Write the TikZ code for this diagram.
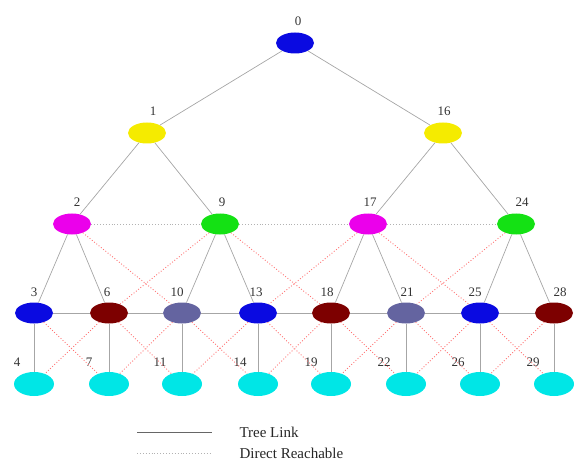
\documentclass[tikz,border=0pt]{standalone}
\usepackage{fontspec}
\setmainfont{Liberation Serif}
\usetikzlibrary{shapes.geometric}
\begin{document}
\begin{tikzpicture}[x=1pt,y=-1pt,
  dot/.style={ellipse,minimum width=38pt,minimum height=21pt,inner sep=0pt},
  leaf/.style={dot,fill=leafc,minimum height=24pt,minimum width=40pt},
  lbl/.style={font=\fontsize{13}{15}\selectfont,text=black!80},
  legendtext/.style={font=\fontsize{15}{17}\selectfont,text=black!85,anchor=west},
  tree/.style={draw=black!35,line width=0.7pt},
  reach/.style={draw=red!55!white,line width=0.9pt,dotted},
  reachh/.style={draw=black!30,line width=0.9pt,dotted}]
\definecolor{blu}{RGB}{10,10,225}
\definecolor{yel}{RGB}{245,235,0}
\definecolor{mag}{RGB}{235,0,235}
\definecolor{grn}{RGB}{20,225,20}
\definecolor{drd}{RGB}{125,0,0}
\definecolor{sla}{RGB}{100,100,160}
\definecolor{leafc}{RGB}{0,230,230}
\useasboundingbox (0,0) rectangle (580,462);
% level 0 and 1
\node[dot,fill=blu] (n0) at (295,43) {};
\node[dot,fill=yel] (n1) at (147,133) {};
\node[dot,fill=yel] (n16) at (443,133) {};
% level 2
\node[dot,fill=mag] (n2) at (72,224) {};
\node[dot,fill=grn] (n9) at (220,224) {};
\node[dot,fill=mag] (n17) at (368,224) {};
\node[dot,fill=grn] (n24) at (516,224) {};
% level 3
\node[dot,fill=blu] (n3) at (34,313) {};
\node[dot,fill=drd] (n6) at (109,313) {};
\node[dot,fill=sla] (n10) at (182,313) {};
\node[dot,fill=blu] (n13) at (258,313) {};
\node[dot,fill=drd] (n18) at (331,313) {};
\node[dot,fill=sla] (n21) at (406,313) {};
\node[dot,fill=blu] (n25) at (480,313) {};
\node[dot,fill=drd] (n28) at (554,313) {};
% leaves
\node[leaf] (n4) at (34,384) {};
\node[leaf] (n7) at (109,384) {};
\node[leaf] (n11) at (182,384) {};
\node[leaf] (n14) at (258,384) {};
\node[leaf] (n19) at (331,384) {};
\node[leaf] (n22) at (406,384) {};
\node[leaf] (n26) at (480,384) {};
\node[leaf] (n29) at (554,384) {};
% labels
\node[lbl] (l0) at (298,21) {0};
\node[lbl] (l1) at (153,111) {1};
\node[lbl] (l16) at (444,111) {16};
\node[lbl] (l2) at (77,202) {2};
\node[lbl] (l9) at (222,202) {9};
\node[lbl] (l17) at (370,202) {17};
\node[lbl] (l24) at (522,202) {24};
\node[lbl] (l3) at (34,292) {3};
\node[lbl] (l6) at (107,292) {6};
\node[lbl] (l10) at (177,292) {10};
\node[lbl] (l13) at (256,292) {13};
\node[lbl] (l18) at (327,292) {18};
\node[lbl] (l21) at (407,292) {21};
\node[lbl] (l25) at (475,292) {25};
\node[lbl] (l28) at (560,292) {28};
\node[lbl] (l4) at (17,362) {4};
\node[lbl] (l7) at (89,362) {7};
\node[lbl] (l11) at (160,362) {11};
\node[lbl] (l14) at (240,362) {14};
\node[lbl] (l19) at (311,362) {19};
\node[lbl] (l22) at (384,362) {22};
\node[lbl] (l26) at (458,362) {26};
\node[lbl] (l29) at (533,362) {29};
% direct reachable links
\draw[reachh] (n2) -- (n9);
\draw[reachh] (n9) -- (n17);
\draw[reachh] (n17) -- (n24);
\draw[reach] (n2) -- (n10);
\draw[reach] (n9) -- (n6);
\draw[reach] (n9) -- (n18);
\draw[reach] (n17) -- (n13);
\draw[reach] (n17) -- (n25);
\draw[reach] (n24) -- (n21);
\foreach \a/\b/\c/\d in {3/7/6/4,6/11/10/7,10/14/13/11,13/19/18/14,18/22/21/19,21/26/25/22,25/29/28/26}{
  \draw[reach] (n\a) -- (n\b);
  \draw[reach] (n\c) -- (n\d);
}
% tree links
\draw[tree] (n0) -- (n1);
\draw[tree] (n0) -- (n16);
\draw[tree] (n1) -- (n2);
\draw[tree] (n1) -- (n9);
\draw[tree] (n16) -- (n17);
\draw[tree] (n16) -- (n24);
\draw[tree] (n2) -- (n3);
\draw[tree] (n2) -- (n6);
\draw[tree] (n9) -- (n10);
\draw[tree] (n9) -- (n13);
\draw[tree] (n17) -- (n18);
\draw[tree] (n17) -- (n21);
\draw[tree] (n24) -- (n25);
\draw[tree] (n24) -- (n28);
\foreach \a/\b in {3/6,6/10,10/13,13/18,18/21,21/25,25/28}{
  \draw[tree] (n\a) -- (n\b);
}
\foreach \a/\b in {3/4,6/7,10/11,13/14,18/19,21/22,25/26,28/29}{
  \draw[tree] (n\a) -- (n\b);
}
% legend
\coordinate (t1) at (137,432);
\coordinate (t2) at (212,432);
\coordinate (d1) at (137,453);
\coordinate (d2) at (212,453);
\draw[draw=black!60,line width=0.7pt] (t1) -- (t2);
\draw[reachh] (d1) -- (d2);
\node[legendtext] (tl) at (236,432) {Tree Link};
\node[legendtext] (dr) at (236,453) {Direct Reachable};
\end{tikzpicture}
\end{document}
